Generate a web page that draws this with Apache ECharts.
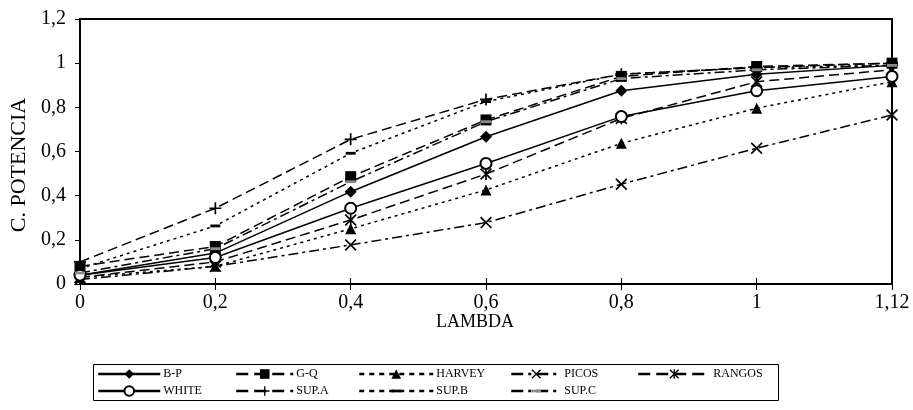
<!DOCTYPE html>
<html><head><meta charset="utf-8">
<script src="https://cdn.jsdelivr.net/npm/echarts@6/dist/echarts.min.js"></script>
<style>html,body{margin:0;padding:0;background:#fff}#c{width:913px;height:410px}</style>
</head><body><div id="c"></div>
<script>
const categories = ['0','0,2','0,4','0,6','0,8','1','1,12'];
const yTicks = [0,0.2,0.4,0.6,0.8,1,1.2];
const bp     = [0.04,0.14,0.418,0.667,0.875,0.95,0.99];
const gq     = [0.08,0.17,0.486,0.743,0.94,0.985,1.0];
const harvey = [0.03,0.08,0.25,0.426,0.637,0.796,0.916];
const picos  = [0.02,0.08,0.177,0.278,0.452,0.615,0.765];
const rangos = [0.03,0.10,0.29,0.498,0.75,0.916,0.97];
const white  = [0.04,0.12,0.343,0.546,0.758,0.875,0.94];
const supA   = [0.10,0.343,0.655,0.836,0.95,0.98,1.0];
const supB   = [0.07,0.263,0.592,0.826,0.95,0.98,0.99];
const supC   = [0.05,0.16,0.463,0.735,0.93,0.97,0.99];

const FONT = 'Liberation Serif';
const xPath = 'path://M0,1 L1,0 L10,9 L9,10 Z M9,0 L10,1 L1,10 L0,9 Z';
const plusPath = 'path://M0,4.3 L10,4.3 L10,5.7 L0,5.7 Z M4.3,0 L5.7,0 L5.7,10 L4.3,10 Z';
const starPath = 'path://M0,1 L1,0 L10,9 L9,10 Z M9,0 L10,1 L1,10 L0,9 Z M4.3,0 L5.7,0 L5.7,10 L4.3,10 Z';
const barPath = 'path://M0,0 M10,10 M0,3.6 L10,3.6 L10,6.4 L0,6.4 Z';

function mk(name, data, dash, symbol, size, color) {
  return {
    name, type: 'line', data, xAxisIndex: 0,
    symbol, symbolSize: size, showAllSymbol: true,
    lineStyle: { color: '#000', width: 1.5, type: dash },
    itemStyle: { color: color || '#000', borderColor: color || '#000', borderWidth: symbol === 'emptyCircle' ? 1.5 : 0 },
    emphasis: { disabled: true }, animation: false, z: 3
  };
}

const series = [
  mk('B-P', bp, 'solid', 'diamond', 12),
  mk('G-Q', gq, [10,5], 'rect', 11),
  mk('HARVEY', harvey, [3,4], 'triangle', 11),
  mk('PICOS', picos, [10,4,3,4], xPath, 12),
  mk('RANGOS', rangos, [10,5], starPath, 12),
  mk('WHITE', white, 'solid', 'emptyCircle', 11),
  mk('SUP.A', supA, [10,5], plusPath, 12),
  mk('SUP.B', supB, [3,4], barPath, 10),
  mk('SUP.C', supC, [10,4,3,4], barPath, 10, '#8c8c8c')
];

const dashOf = { 'B-P':'solid','WHITE':'solid','G-Q':[12,6],'SUP.A':[12,6],'HARVEY':[5,5],'SUP.B':[5,5],'PICOS':[12,5,3,5],'SUP.C':[12,5,3,5],'RANGOS':[12,6] };

function leg(names, left, w) {
  return {
    data: names.map(n => ({ name: n, lineStyle: { width: 2.5, type: dashOf[n] } })),
    left: left, top: 367, orient: 'vertical', itemGap: 3,
    itemWidth: w, itemHeight: 12,
    textStyle: { fontFamily: FONT, fontSize: 12, color: '#000', padding: [0,0,0,-2], lineHeight: 14 },
    padding: 0, selectedMode: false
  };
}

const chart = echarts.init(document.getElementById('c'));
chart.setOption({
  animation: false,
  backgroundColor: '#fff',
  grid: { left: 80, right: 21, top: 19, bottom: 126, show: true, borderColor: '#000', borderWidth: 2 },
  xAxis: [
    { type: 'category', data: categories, boundaryGap: false,
      axisLine: { lineStyle: { color: '#000', width: 2 } },
      axisTick: { show: true, length: 6, lineStyle: { color: '#000', width: 1 } },
      axisLabel: { fontFamily: FONT, fontSize: 20, color: '#000', margin: 9 },
      splitLine: { show: false } },
    { type: 'category', data: categories, boundaryGap: false, position: 'bottom',
      axisLine: { show: false },
      axisTick: { show: true, inside: true, length: 6, lineStyle: { color: '#000', width: 1 } },
      axisLabel: { show: false }, splitLine: { show: false } }
  ],
  yAxis: { type: 'value', min: yTicks[0], max: yTicks[yTicks.length-1], interval: 0.2,
    axisLine: { show: true, lineStyle: { color: '#000', width: 2 } },
    axisTick: { show: true, length: 5, lineStyle: { color: '#000', width: 1 } },
    axisLabel: { fontFamily: FONT, fontSize: 20, color: '#000', margin: 14,
      formatter: v => String(Math.round(v*10)/10).replace('.', ',') },
    splitLine: { show: false } },
  legend: [
    leg(['B-P','WHITE'], 97, 62),
    leg(['G-Q','SUP.A'], 235, 57),
    leg(['HARVEY','SUP.B'], 358, 74),
    leg(['PICOS','SUP.C'], 510, 50),
    leg(['RANGOS'], 637, 72)
  ],
  graphic: [
    { type: 'rect', shape: { x: 93.5, y: 364.5, width: 685, height: 36 }, style: { fill: 'none', stroke: '#000', lineWidth: 1 }, silent: true },
    { type: 'text', x: 19, y: 165, rotation: Math.PI/2, style: { text: 'C. POTENCIA', fontFamily: FONT, fontSize: 22, fill: '#000', align: 'center', verticalAlign: 'middle' } },
    { type: 'text', x: 475, y: 322, style: { text: 'LAMBDA', fontFamily: FONT, fontSize: 18, fill: '#000', align: 'center', verticalAlign: 'middle' } }
  ],
  series
});
</script></body></html>
